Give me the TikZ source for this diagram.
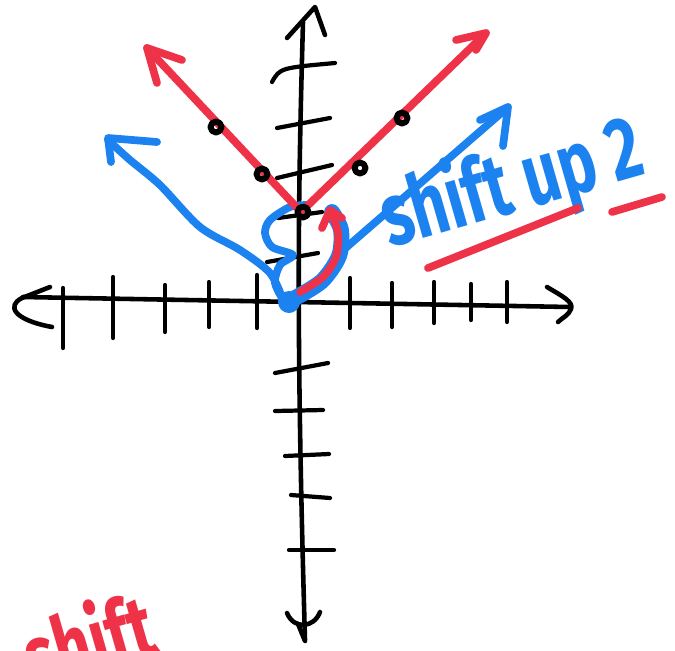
\documentclass[tikz,border=0pt]{standalone}
\usepackage{graphicx}
\usepackage{fontspec}
\setsansfont{Fira Sans}
\definecolor{crayonred}{RGB}{238,50,72}
\definecolor{crayonblue}{RGB}{28,130,240}

\begin{document}
\begin{tikzpicture}[x=0.02cm, y=-0.02cm, line cap=round, line join=round]

    % Define styles
    \tikzset{
        axisline/.style={black, line width=2.6pt},
        tickline/.style={black, line width=2.4pt},
        redpath/.style={crayonred, line width=4.4pt},
        bluepath/.style={crayonblue, line width=4.4pt},
        bluehalo/.style={crayonblue, line width=9pt},
        ptdot/.style={draw=black, line width=3.4pt},
        bluetext/.style={crayonblue, font=\sffamily\bfseries\fontsize{36}{36}\selectfont, anchor=base west, rotate=16, inner sep=0pt},
        redtext/.style={crayonred, font=\sffamily\bfseries\fontsize{36}{36}\selectfont, anchor=base west, rotate=16, inner sep=0pt}
    }

    % page frame
    \clip (0,0) rectangle (675,650);

    % 1. Coordinates
    \coordinate (O) at (290,302);      % origin
    \coordinate (V) at (301,212);      % vertex of the shifted graph

    % 2. Axes
    \draw[axisline] (23,297) -- (570,307);
    \draw[axisline] (50,287) -- (22,298) .. controls (6,306) and (14,320) .. (52,327);
    \draw[axisline] (547,287) .. controls (562,296) and (574,302) .. (571,309) .. controls (569,315) and (562,318) .. (558,322);
    \draw[axisline] (303,22) .. controls (298,200) and (296,330) .. (305,640);
    \draw[axisline] (287,38) -- (315,7) -- (325,35);
    \draw[axisline] (287,613) .. controls (294,630) and (314,628) .. (320,612);
    \draw[axisline] (298,624) -- (305,641);

    % ticks on the x-axis
    \foreach \x/\a/\b in {63/288/348, 113/277/338, 165/285/332, 209/282/327, 257/275/328,
                          350/278/328, 392/283/327, 434/282/323, 471/284/320, 507/282/322}
        \draw[tickline] (\x,\a) -- (\x,\b);

    % ticks on the y-axis
    \draw[tickline] (272,82) .. controls (280,68) .. (335,63);
    \foreach \xa/\ya/\xb/\yb in {277/128/330/118, 277/178/332/165, 278/218/322/212, 267/262/318/253,
                                 275/373/328/363, 275/411/323/410, 285/456/329/454, 291/495/330/498, 289/550/334/550}
        \draw[tickline] (\xa,\ya) -- (\xb,\yb);

    % 3. Blue graph (parent)
    \draw[bluepath] plot[smooth] coordinates {(283,300) (270,273) (240,250) (200,227) (160,185) (130,160) (108,140)};
    \draw[bluepath] (157,142) -- (108,138) -- (111,162);
    \draw[bluepath] (341,252) -- (507,108);
    \draw[bluepath] (480,120) -- (508,107) -- (503,146);
    \draw[bluepath] plot[smooth] coordinates {(308,205) (290,207) (270,220) (265,233) (272,247) (293,255) (280,265) (275,283) (285,303)};
    \draw[bluehalo] plot[smooth] coordinates {(295,298) (322,281) (339,256) (341,230) (332,212)};
    \fill[crayonblue] (289,302) ellipse (11 and 11);

    % 4. Red graph (shifted up 2)
    \draw[redpath] (147,48) -- (V) -- (485,34);
    \draw[redpath] (182,60) -- (147,48) -- (157,83);
    \draw[redpath] (456,40) -- (486,33) -- (476,50);
    \draw[redpath] plot[smooth] coordinates {(300,292) (323,277) (336,257) (338,233) (331,212)};
    \draw[redpath] (322,228) -- (330,210) -- (342,218);

    % points
    \foreach \x/\y in {216/127, 262/174, 360/168, 402/118, 303/212}
        \draw[ptdot] (\x,\y) circle (5.5);

    % 5. Labels
    \node[bluetext] (ShiftText) at (390,248) {\scalebox{1}[1.4]{shift up 2}};
    \draw[redpath] (428,268) -- (578,208);
    \draw[redpath] (612,212) -- (662,197);

    \node[redtext] (ShiftRed) at (34,690) {\scalebox{1}[1.4]{shift}};

\end{tikzpicture}
\end{document}
